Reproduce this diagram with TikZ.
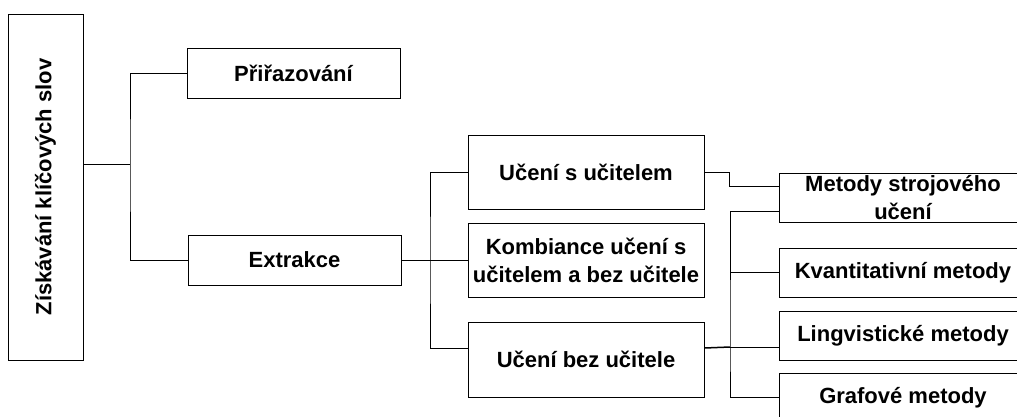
\documentclass[tikz,border=0pt]{standalone}
\usepackage{fontspec}
\setmainfont{Liberation Sans}
\usetikzlibrary{calc}

\begin{document}
\begin{tikzpicture}[x=1pt, y=-1pt, line width=1pt,
    blok/.style={draw, rectangle, inner sep=0pt, align=center,
        font=\fontsize{22}{28}\selectfont\bfseries}]
    \clip (0,0) rectangle (1017,416);

    \node[blok, minimum width=346pt, minimum height=75pt, rotate=90] (zks) at (45.5,187) {Získávání klíčových slov};

    \node[blok, minimum width=213pt, minimum height=50pt] (prir) at (293.5,73) {Přiřazování};
    \node[blok, minimum width=213pt, minimum height=50pt] (extr) at (294.5,260) {Extrakce};

    \node[blok, minimum width=236pt, minimum height=74pt] (ucs) at (586,172) {Učení s učitelem};
    \node[blok, minimum width=236pt, minimum height=74pt] (komb) at (586,260) {Kombiance učení s\\učitelem a bez učitele};
    \node[blok, minimum width=236pt, minimum height=75pt] (ubu) at (586,359.5) {Učení bez učitele};

    \node[blok, minimum width=248pt, minimum height=49pt] (mso) at (903,197.5) {Metody strojového\\učení};
    \node[blok, minimum width=248pt, minimum height=49pt] (kvant) at (903,272.5) {Kvantitativní metody};
    \node[blok, minimum width=248pt, minimum height=49pt] (ling) at (903,335.5) {Lingvistické metody};
    \node[blok, minimum width=248pt, minimum height=49pt] (graf) at (903,397.5) {Grafové metody};

    % rozvetveni
    \coordinate (b1) at (130,164);
    \coordinate (b2) at (430,260);
    \coordinate (b3) at (730,347);

    \draw (zks.south |- b1) -- (b1);
    \draw (prir.west) -| (b1) |- (extr.west);

    \draw (extr.east) -- (b2);
    \draw (ucs.west) -| (b2) |- ([yshift=11.5pt]ubu.west);
    \draw (komb.west) -- (b2);

    \draw (ucs.east) -- ++(25,0) |- ([yshift=11.5pt]mso.west);

    \draw[line width=1.5pt] ([yshift=11.5pt]ubu.east) -- (b3);
    \draw ([yshift=-13.5pt]mso.west) -| (b3) |- (graf.west);
    \draw (kvant.west) -- (kvant.west -| b3);
    \draw ([yshift=-11.5pt]ling.west) -- (b3);
\end{tikzpicture}
\end{document}
